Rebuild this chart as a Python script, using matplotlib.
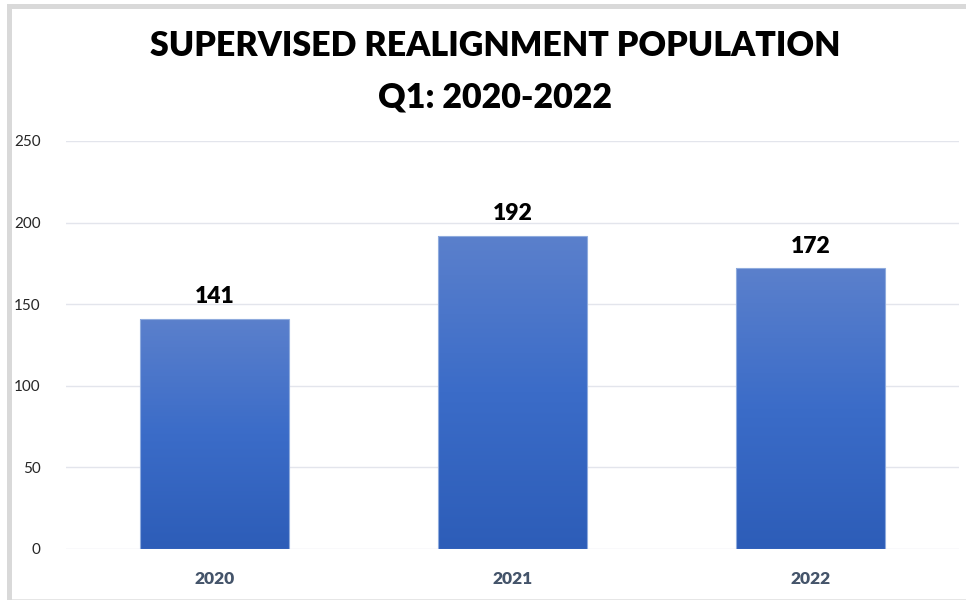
import numpy as np
import matplotlib.pyplot as plt
from matplotlib.colors import LinearSegmentedColormap
from matplotlib.patches import Rectangle

years = ["2020", "2021", "2022"]
population = [141, 192, 172]
title_lines = ["SUPERVISED REALIGNMENT POPULATION", "Q1: 2020-2022"]

plt.rcParams['font.family'] = ['Lato', 'DejaVu Sans']

fig = plt.figure(figsize=(9.66, 6.01), dpi=100)
ax = fig.add_axes([65.5 / 966, 1 - 549 / 601, 894 / 966, 408 / 601])

# outer frame (light gray band on top/left, thin line at bottom)
fig.patches.append(Rectangle((7 / 966, 1 - 600 / 601), 1.2, 596 / 601, transform=fig.transFigure,
                             facecolor="white", edgecolor="none", zorder=-2))
fig.patches.append(Rectangle((7 / 966, 1 - 9 / 601), 1.2, 5 / 601, transform=fig.transFigure,
                             facecolor="#d9d9d9", edgecolor="none", zorder=-1))
fig.patches.append(Rectangle((7 / 966, 1 - 600 / 601), 5 / 966, 596 / 601, transform=fig.transFigure,
                             facecolor="#d9d9d9", edgecolor="none", zorder=-1))
fig.patches.append(Rectangle((12 / 966, 1 - 600 / 601), 1.2, 1 / 601, transform=fig.transFigure,
                             facecolor="#e6e6e6", edgecolor="none", zorder=-1))

x = np.arange(len(years))
bars = ax.bar(x, population, width=0.5, color="none", edgecolor="#8fabdd", linewidth=0.8, zorder=3)

cmap = LinearSegmentedColormap.from_list("blues", ["#2d5db8", "#3b6cc8", "#5b80cc"])
grad = np.linspace(0, 1, 256).reshape(-1, 1)
for bar in bars:
    bx, by = bar.get_x(), bar.get_y()
    w, h = bar.get_width(), bar.get_height()
    im = ax.imshow(grad, cmap=cmap, aspect="auto", origin="lower",
                   extent=[bx, bx + w, by, by + h], zorder=2)
    im.set_clip_path(bar)

for xi, v in zip(x, population):
    ax.text(xi, v + 7, str(v), ha="center", va="bottom", fontsize=16.5, fontweight="heavy", color="black")

ax.set_xlim(-0.5, 2.5)
ax.set_ylim(0, 250)
ax.set_yticks(range(0, 251, 50))
ax.set_xticks(x)
ax.set_xticklabels(years, fontsize=12.5, fontweight="heavy", color="#44546a")
ax.tick_params(axis="y", labelsize=11, colors="#262626", length=0, pad=18)
ax.tick_params(axis="x", length=0, pad=16)
ax.grid(axis="y", color="#e3e5ec", linewidth=1)
ax.set_axisbelow(True)
for s in ax.spines.values():
    s.set_visible(False)
ax.set_facecolor("none")

fig.text(495 / 966, 1 - 46 / 601, title_lines[0], ha="center", va="center", fontsize=24.5, fontweight="heavy")
fig.text(495 / 966, 1 - 98 / 601, title_lines[1], ha="center", va="center", fontsize=24.5, fontweight="heavy")

fig.savefig("out.png", dpi=100)
